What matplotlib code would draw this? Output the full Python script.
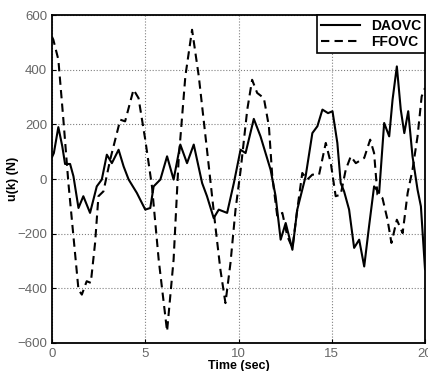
import numpy as np
import matplotlib
matplotlib.use('Agg')
import matplotlib.pyplot as plt

plt.rcParams['font.family'] = ['Liberation Sans', 'DejaVu Sans']

# DAOVC (solid)
t_da = [0.0, 0.1, 0.34, 0.55, 0.7, 0.97, 1.15, 1.42, 1.68, 2.04, 2.4, 2.67, 2.94, 3.21,
        3.57, 3.84, 4.11, 4.55, 5.0, 5.27, 5.45, 5.81, 6.17, 6.52, 6.88, 7.24, 7.6,
        8.05, 8.31, 8.67, 8.94, 9.39, 9.75, 10.11, 10.38, 10.82, 11.18, 11.72, 11.99,
        12.26, 12.53, 12.89, 13.15, 13.6, 13.96, 14.23, 14.5, 14.8, 15.04, 15.3,
        15.48, 15.66, 15.93, 16.2, 16.47, 16.74, 17.0, 17.27, 17.54, 17.81, 18.08,
        18.26, 18.49, 18.7, 18.89, 19.1, 19.33, 19.6, 19.78, 20.0]
u_da = [80, 95, 190, 120, 55, 55, 10, -106, -63, -124, -27, -2, 89, 58,
        107, 46, -2, -51, -112, -106, -27, -2, 83, -2, 126, 58, 126,
        -15, -63, -143, -112, -124, -15, 107, 95, 220, 156, 34, -63,
        -222, -161, -259, -112, 10, 168, 193, 254, 241, 248, 132,
        -15, -45, -112, -252, -222, -320, -173, -27, -51, 205, 156,
        290, 412, 254, 168, 248, 83, -39, -100, -330]

# FFOVC (dashed)
t_ff = [0.0, 0.07, 0.34, 0.61, 0.88, 1.15, 1.42, 1.6, 1.86, 2.08, 2.31, 2.49, 2.76,
        3.12, 3.66, 3.92, 4.37, 4.64, 5.0, 5.36, 5.72, 6.17, 6.52, 6.79, 7.15, 7.51,
        7.87, 8.31, 8.76, 9.03, 9.3, 9.57, 9.84, 10.11, 10.47, 10.73, 11.0, 11.36,
        11.63, 11.81, 12.08, 12.35, 12.62, 12.89, 13.15, 13.42, 13.69, 13.96, 14.32,
        14.68, 14.95, 15.21, 15.48, 15.75, 16.02, 16.29, 16.74, 17.06, 17.27, 17.45,
        17.72, 17.99, 18.2, 18.49, 18.8, 19.07, 19.33, 19.6, 19.82, 20.0]
u_ff = [520, 510, 437, 217, -15, -210, -405, -423, -374, -380, -234, -63, -45,
        71, 217, 211, 327, 296, 144, -27, -295, -557, -295, 71, 376, 546,
        376, 107, -173, -332, -454, -307, -112, 30, 254, 363, 315, 296,
        193, 10, -137, -124, -210, -252, -112, 22, -2, 16, 16,
        132, 58, -63, -57, 34, 83, 58, 77, 144, 95, -57,
        -70, -149, -234, -149, -198, -51, 34, 156, 302, 333]

fig = plt.figure(figsize=(4.28, 3.71), dpi=100)
ax = fig.add_axes([0.1215, 0.0755, 0.8715, 0.884])

ax.plot(t_da, u_da, 'k-', lw=1.5, label='DAOVC')
ax.plot(t_ff, u_ff, 'k--', lw=1.5, dashes=(4, 2.5), label='FFOVC')

ax.set_xlim(0, 20)
ax.set_ylim(-600, 600)
ax.set_xticks([0, 5, 10, 15, 20])
ax.set_yticks([-600, -400, -200, 0, 200, 400, 600])
ax.grid(True, linestyle=':', color='gray', lw=0.8)
ax.tick_params(direction='in', labelsize=9.5, labelcolor='#666666', length=3)
for s in ax.spines.values():
    s.set_linewidth(1.3)

ax.set_xlabel('Time (sec)', fontsize=9, fontweight='bold', labelpad=0)
ax.set_ylabel('u(k) (N)', fontsize=9, fontweight='bold', labelpad=-1)

leg = ax.legend(loc='upper right', fancybox=False, framealpha=1, edgecolor='black',
                borderaxespad=0, prop={'weight': 'bold', 'size': 10}, handlelength=2.8,
                borderpad=0.3, labelspacing=0.15)
leg.get_frame().set_linewidth(1.2)

plt.savefig('out.png', dpi=100)
